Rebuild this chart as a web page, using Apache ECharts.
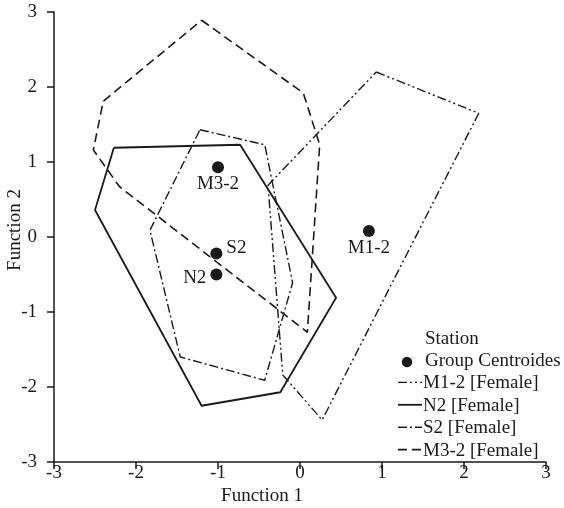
<!DOCTYPE html>
<html><head><meta charset="utf-8">
<script src="https://cdn.jsdelivr.net/npm/echarts@6/dist/echarts.min.js"></script>
<style>html,body{margin:0;padding:0;background:#fff}#c{width:564px;height:508px}</style>
</head><body><div id="c"></div>
<script>
var xTicks = [-3, -2, -1, 0, 1, 2, 3];
var yTicks = [-3, -2, -1, 0, 1, 2, 3];
var centroidNames = ['M3-2', 'S2', 'N2', 'M1-2'];
var centroids = [[-1.0, 0.93], [-1.02, -0.22], [-1.02, -0.5], [0.84, 0.08]];
var polyM12 = [[0.93, 2.2], [2.18, 1.65], [0.27, -2.44], [-0.21, -1.84], [-0.39, 0.69], [0.93, 2.2]];
var polyN2 = [[-2.27, 1.19], [-0.73, 1.23], [0.44, -0.81], [-0.24, -2.07], [-1.2, -2.25], [-2.5, 0.36], [-2.27, 1.19]];
var polyS2 = [[-1.22, 1.43], [-0.43, 1.23], [-0.09, -0.61], [-0.43, -1.91], [-1.46, -1.6], [-1.83, 0.09], [-1.22, 1.43]];
var polyM32 = [[-1.2, 2.89], [0.04, 1.92], [0.24, 1.23], [0.09, -1.27], [-2.2, 0.67], [-2.52, 1.16], [-2.4, 1.81], [-1.2, 2.89]];
var legendTitle = 'Station';
var legendNames = ['Group Centroides', 'M1-2 [Female]', 'N2 [Female]', 'S2 [Female]', 'M3-2 [Female]'];

var FONT = '"Liberation Serif", "Times New Roman", serif';
var FS = 19;
var C = '#1a1a1a';
var chart = echarts.init(document.getElementById('c'));
var labelCfg = {
  'M3-2': {position: 'bottom', distance: 1, offset: [0, 0]},
  'S2': {position: 'right', distance: 4, offset: [0, -5]},
  'N2': {position: 'left', distance: 4, offset: [0, 4]},
  'M1-2': {position: 'bottom', distance: 2, offset: [0, 0]}
};
var styles = {
  'M1-2 [Female]': {type: [9, 3, 2, 3, 2, 3], width: 1.4},
  'N2 [Female]': {type: 'solid', width: 1.8},
  'S2 [Female]': {type: [9, 3, 2, 3], width: 1.4},
  'M3-2 [Female]': {type: [9, 5], width: 1.6}
};
function poly(name, pts) {
  return {name: name, type: 'line', data: pts, symbol: 'none', silent: true,
    lineStyle: {color: C, width: styles[name].width, type: styles[name].type}, z: 2};
}
// legend built as graphic elements
var lg = [];
lg.push({type: 'text', x: 425, y: 339, style: {text: legendTitle, font: FS + 'px ' + FONT, fill: C, textVerticalAlign: 'middle'}});
legendNames.forEach(function(n, i) {
  var cy = 361 + i * 22.4;
  if (i === 0) {
    lg.push({type: 'circle', shape: {cx: 407, cy: cy + 1, r: 5.2}, style: {fill: C}});
  } else {
    lg.push({type: 'line', shape: {x1: 398, y1: cy - 1, x2: 422, y2: cy - 1},
      style: {stroke: C, lineWidth: styles[n].width, lineDash: styles[n].type === 'solid' ? null : styles[n].type}});
  }
  lg.push({type: 'text', x: i === 0 ? 425 : 423, y: cy, style: {text: n, font: FS + 'px ' + FONT, fill: C, textVerticalAlign: 'middle'}});
});
chart.setOption({
  animation: false,
  grid: {left: 54, right: 18, top: 12, bottom: 46, containLabel: false, outerBoundsMode: 'none'},
  graphic: lg,
  xAxis: {
    type: 'value', min: -3, max: 3, interval: 1, name: 'Function 1', nameLocation: 'middle', nameGap: 25,
    nameMoveOverlap: false,
    nameTextStyle: {fontFamily: FONT, fontSize: FS, color: C, padding: [0, 76, 0, 0]},
    axisLine: {onZero: false, lineStyle: {color: C, width: 1.5}},
    axisTick: {show: true, length: 7, lineStyle: {color: C, width: 1.5}},
    axisLabel: {fontFamily: FONT, fontSize: FS, color: C, margin: 2, formatter: function(v){return xTicks.indexOf(v)>=0?String(v):'';}},
    splitLine: {show: false}
  },
  yAxis: {
    type: 'value', min: -3, max: 3, interval: 1, name: 'Function 2', nameLocation: 'middle', nameGap: 29,
    nameMoveOverlap: false,
    nameTextStyle: {fontFamily: FONT, fontSize: FS, color: C, padding: [0, 0, 0, 14]},
    axisLine: {onZero: false, lineStyle: {color: C, width: 1.5}},
    axisTick: {show: true, length: 7, lineStyle: {color: C, width: 1.5}},
    axisLabel: {fontFamily: FONT, fontSize: FS, color: C, margin: 17, formatter: function(v){return yTicks.indexOf(v)>=0?String(v):'';}},
    splitLine: {show: false}
  },
  series: [
    {name: 'Group Centroides', type: 'scatter', symbol: 'circle', symbolSize: 12, z: 5,
      itemStyle: {color: C, opacity: 1},
      data: centroids.map(function(p, i){ var lc = labelCfg[centroidNames[i]]; return {value: p, name: centroidNames[i],
        label: {show: true, position: lc.position, distance: lc.distance, offset: lc.offset, formatter: centroidNames[i],
          fontFamily: FONT, fontSize: FS, color: C}}; })
    },
    poly('M1-2 [Female]', polyM12),
    poly('N2 [Female]', polyN2),
    poly('S2 [Female]', polyS2),
    poly('M3-2 [Female]', polyM32)
  ]
});
</script></body></html>
